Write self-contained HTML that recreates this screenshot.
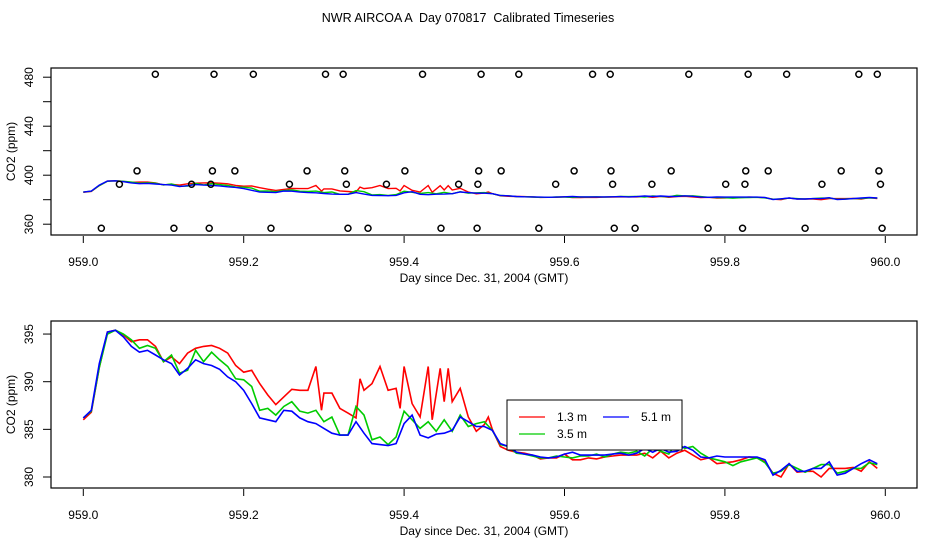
<!DOCTYPE html>
<html><head><meta charset="utf-8"><style>
html,body{margin:0;padding:0;background:#fff}
svg{display:block;font-family:"Liberation Sans",sans-serif}
</style></head><body>
<svg id="chart" width="936" height="540" viewBox="0 0 936 540" xmlns="http://www.w3.org/2000/svg">
<text x="468" y="22" font-size="12.5" text-anchor="middle" style="white-space:pre" xml:space="preserve">NWR AIRCOA A  Day 070817  Calibrated Timeseries</text>
<g id="top"></g>
<g id="bot"></g>
</svg>
<script>
const times = [];
for (let i = 0; i < 100; i++) times.push(959 + i * 0.01);
const blue = [386.2,387.0,391.9,395.2,395.4,394.7,393.7,393.1,393.3,392.8,392.3,391.9,390.7,391.4,392.3,391.9,391.7,391.3,390.5,390.0,389.1,387.7,386.2,386.0,385.8,387.0,386.9,386.2,385.8,385.6,385.1,384.6,384.4,384.4,385.8,384.6,383.5,383.4,383.3,383.5,385.6,386.5,384.4,384.1,384.5,384.6,384.9,386.3,385.8,385.3,385.3,384.9,383.5,383.2,382.6,382.4,382.3,382.1,382.0,382.1,382.4,382.6,382.3,382.3,382.3,382.3,382.4,382.5,382.3,382.5,383.0,382.6,383.0,382.6,382.7,383.2,382.8,382.1,382.0,382.2,382.1,382.1,382.1,382.1,382.1,381.8,380.2,380.7,381.4,380.6,380.6,380.9,380.9,381.6,380.2,380.4,380.9,381.4,381.8,381.4];
const green = [386.2,386.9,391.5,395.0,395.4,395.0,394.4,393.5,393.8,393.5,392.1,392.8,390.9,391.2,393.3,392.1,393.1,392.3,391.6,390.3,390.2,389.5,387.0,387.2,386.5,387.4,387.9,386.9,386.7,387.0,385.8,386.3,384.4,384.4,387.4,386.5,383.9,384.2,383.4,384.2,386.9,386.0,385.1,385.8,384.8,386.0,384.8,386.5,385.3,385.6,385.8,384.9,383.4,383.2,382.5,382.4,382.2,382.0,382.0,382.2,382.1,382.0,382.2,382.2,382.4,382.1,382.4,382.6,382.5,382.7,382.2,383.0,382.7,382.4,383.6,383.0,383.2,382.5,382.0,381.8,381.6,381.2,381.6,381.8,382.0,381.5,380.4,380.6,381.3,380.9,380.5,380.9,381.3,381.3,380.4,380.6,380.9,380.9,381.5,381.3];
const redTimes = [959.00,959.01,959.02,959.03,959.04,959.05,959.06,959.07,959.08,959.09,959.10,959.11,959.12,959.13,959.14,959.15,959.16,959.17,959.18,959.19,959.20,959.21,959.22,959.23,959.24,959.25,959.26,959.27,959.28,959.29,959.297,959.30,959.31,959.32,959.33,959.34,959.345,959.35,959.36,959.37,959.38,959.39,959.395,959.40,959.41,959.42,959.43,959.435,959.445,959.45,959.455,959.46,959.47,959.48,959.49,959.50,959.505,959.51,959.52,959.53,959.54,959.55,959.56,959.57,959.58,959.59,959.60,959.61,959.62,959.63,959.64,959.65,959.66,959.67,959.68,959.69,959.70,959.71,959.72,959.73,959.74,959.75,959.76,959.77,959.78,959.79,959.80,959.81,959.82,959.83,959.84,959.85,959.86,959.87,959.88,959.89,959.90,959.91,959.92,959.93,959.94,959.95,959.96,959.97,959.98,959.99];
const red = [386.0,386.8,391.5,395.2,395.4,394.9,394.2,394.4,394.4,393.7,392.1,392.6,391.9,393.0,393.5,393.7,393.8,393.5,393.0,391.7,391.0,391.2,389.8,388.6,387.6,388.4,389.2,389.1,389.1,391.6,387.0,388.8,388.8,387.2,386.7,386.2,390.3,389.1,389.8,391.6,389.1,389.3,387.2,391.6,387.7,386.3,391.6,386.0,391.4,387.9,391.4,387.9,389.3,386.3,384.8,385.5,386.3,385.0,383.2,382.8,382.6,382.5,382.3,381.9,382.0,382.0,382.4,381.8,381.8,382.0,381.9,382.1,382.2,382.3,382.3,382.3,382.5,382.0,382.7,382.0,382.5,382.8,382.3,381.8,382.0,381.4,381.5,381.6,381.8,382.1,382.0,381.6,380.4,380.0,381.4,380.5,380.6,380.6,380.0,380.9,380.9,380.9,381.0,380.6,381.6,380.9];
const outT = [0.0898,0.163,0.212,0.302,0.324,0.423,0.496,0.543,0.635,0.657,0.755,0.829,0.877,0.967,0.990,
 0.067,0.161,0.189,0.279,0.326,0.401,0.493,0.521,0.612,0.658,0.733,0.826,0.854,0.945,0.992,
 0.045,0.135,0.159,0.257,0.328,0.378,0.468,0.492,0.589,0.660,0.709,0.801,0.825,0.921,0.994,
 0.0225,0.113,0.157,0.234,0.330,0.355,0.446,0.491,0.568,0.662,0.688,0.779,0.822,0.900,0.996];
const outV = [482.4,482.4,482.4,482.4,482.4,482.4,482.4,482.4,482.4,482.4,482.4,482.4,482.4,482.4,482.4,
 403.5,403.5,403.5,403.5,403.5,403.5,403.5,403.5,403.5,403.5,403.5,403.5,403.5,403.5,403.5,
 392.6,392.6,392.6,392.6,392.6,392.6,392.6,392.6,392.6,392.6,392.6,392.6,392.6,392.6,392.6,
 356.7,356.7,356.7,356.7,356.7,356.7,356.7,356.7,356.7,356.7,356.7,356.7,356.7,356.7,356.7];
const xTicks = [959.0,959.2,959.4,959.6,959.8,960.0];
const topYTicks = [360,380,400,420,440,460,480];
const topYLabels = [360,400,440,480];
const botYTicks = [380,385,390,395];

const NS = "http://www.w3.org/2000/svg";
function mk(parent, tag, attrs) {
  const e = document.createElementNS(NS, tag);
  for (const k in attrs) e.setAttribute(k, attrs[k]);
  parent.appendChild(e);
  return e;
}
const xs = t => 83.3 + (t - 959) * 802;

function panel(g, top, bottom, y0, yScale, yTicks, yLabels, lw) {
  const ys = v => y0 - (v - yTicks[0]) * yScale;
  const box = mk(g, 'rect', {x: 51, y: top, width: 866, height: bottom - top, fill: 'none', stroke: '#000', 'stroke-width': 1.2});
  
  
  xTicks.forEach(t => {
    const l = mk(g, 'line', {x1: xs(t), x2: xs(t), y1: bottom + 1, y2: bottom + 8, stroke: '#000'});
    
    
    const tx = mk(g, 'text', {x: xs(t), y: bottom + 31, 'font-size': 12, 'text-anchor': 'middle'});
    tx.textContent = t.toFixed(1);
    
    
  });
  const xt = mk(g, 'text', {x: 484, y: bottom + 47, 'font-size': 12, 'text-anchor': 'middle'});
  xt.textContent = 'Day since Dec. 31, 2004 (GMT)';
  
  
  yTicks.forEach(v => {
    const l = mk(g, 'line', {x1: 43, x2: 51, y1: ys(v), y2: ys(v), stroke: '#000'});
    
    
  });
  yLabels.forEach(v => {
    const tx = mk(g, 'text', {x: 0, y: 0, 'font-size': 12, 'text-anchor': 'middle', transform: `translate(33,${ys(v)}) rotate(-90)`});
    tx.textContent = v;
    
    
  });
  const yt = mk(g, 'text', {x: 0, y: 0, 'font-size': 12, 'text-anchor': 'middle', transform: `translate(15,${(top + bottom) / 2}) rotate(-90)`});
  yt.textContent = 'CO2 (ppm)';
  
  
  function line(tArr, vArr, color, name) {
    const d = tArr.map((t, i) => (i ? 'L' : 'M') + xs(t).toFixed(1) + ',' + ys(vArr[i]).toFixed(1)).join('');
    const p = mk(g, 'path', {d: d, fill: 'none', stroke: color, 'stroke-width': lw});
    
    
  }
  line(redTimes, red, '#ff0000', 'series-1-3m');
  line(times, green, '#00cc00', 'series-3-5m');
  line(times, blue, '#0000ff', 'series-5-1m');
  return ys;
}

const topG = document.getElementById('top');
const ysTop = panel(topG, 68, 235, 224.2, 1.225, topYTicks, topYLabels, 1.4);
outT.forEach((t, i) => {
  const c = mk(topG, 'circle', {cx: xs(959 + t), cy: ysTop(outV[i]), r: 3, fill: 'none', stroke: '#000', 'stroke-width': 1.5});
  
  
});

const botG = document.getElementById('bot');
panel(botG, 321, 488, 477, 9.53, botYTicks, botYTicks, 1.6);

const lg = mk(botG, 'g', {});


mk(lg, 'rect', {x: 507, y: 400, width: 175, height: 50, fill: '#fff', stroke: '#000', 'stroke-width': 1});
const entries = [['1.3 m', '#ff0000', 519, 417], ['3.5 m', '#00cc00', 519, 434], ['5.1 m', '#0000ff', 603, 417]];
entries.forEach(([lab, col, x, y]) => {
  const e = mk(lg, 'g', {});
  
  
  mk(e, 'line', {x1: x, x2: x + 26, y1: y, y2: y, stroke: col, 'stroke-width': 1.2});
  const t = mk(e, 'text', {x: x + 38, y: y + 4, 'font-size': 12});
  t.textContent = lab;
});
</script>
</body></html>
